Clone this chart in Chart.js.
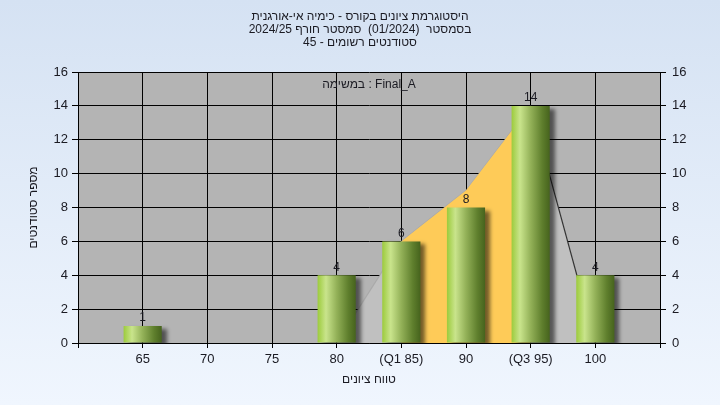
<!DOCTYPE html>
<html>
<head>
<meta charset="utf-8">
<script src="https://cdn.jsdelivr.net/npm/chart.js@4.4.1/dist/chart.umd.min.js"></script>
<style>
  html, body { margin: 0; padding: 0; background: #e4edf8; }
  canvas { display: block; }
</style>
</head>
<body>
<canvas id="grades-histogram" width="720" height="405"></canvas>
<script>
// chart data
const gradeLabels = ["", "65", "70", "75", "80", "(Q1 85)", "90", "(Q3 95)", "100", ""];
const studentCounts = [null, 1, 0, 0, 4, 6, 8, 14, 4, null];
const outerCurve = [null, null, null, null, 0, 6, 9, 14, 0, null];
const quartileCurve = [null, null, null, null, null, 6, 9, 14, null, null];
const titleLines = [
  "היסטוגרמת ציונים בקורס - כימיה אי-אורגנית",
  "בסמסטר  (01/2024)  סמסטר חורף 2024/25",
  "סטודנטים רשומים - 45",
];
const taskLabel = "במשימה : Final_A";
const yTitle = "מספר סטודנטים";
const xTitle = "טווח ציונים";
const yMax = 16;
const yStep = 2;

const baseFont = { family: "'Liberation Sans', Arial, sans-serif", size: 13 };
const textColor = "#1a1a22";

// background + plot area fill
const backgroundPlugin = {
  id: "background",
  beforeDraw(chart) {
    const { ctx, width, height, chartArea } = chart;
    ctx.save();
    const g = ctx.createLinearGradient(0, 0, 0, height);
    g.addColorStop(0, "#d5e2f3");
    g.addColorStop(1, "#f0f6fe");
    ctx.fillStyle = g;
    ctx.fillRect(0, 0, width, height);
    ctx.fillStyle = "#b4b4b4";
    ctx.fillRect(chartArea.left, chartArea.top, chartArea.right - chartArea.left, chartArea.bottom - chartArea.top);
    ctx.restore();
  },
};

// drop shadow for the bars
const barShadowPlugin = {
  id: "barShadow",
  beforeDatasetDraw(chart, args) {
    if (args.meta.type !== "bar") return;
    const ctx = chart.ctx;
    ctx.save();
    ctx.shadowColor = "rgba(0,0,0,0.55)";
    ctx.shadowBlur = 4;
    ctx.shadowOffsetX = 5;
    ctx.shadowOffsetY = 3;
  },
  afterDatasetDraw(chart, args) {
    if (args.meta.type !== "bar") return;
    chart.ctx.restore();
  },
};

// value labels above bars + task label
const labelsPlugin = {
  id: "valueLabels",
  afterDatasetsDraw(chart) {
    const { ctx, chartArea } = chart;
    ctx.save();
    ctx.font = "12px " + baseFont.family;
    ctx.fillStyle = textColor;
    ctx.textAlign = "center";
    ctx.textBaseline = "bottom";
    chart.getSortedVisibleDatasetMetas().forEach((meta) => {
      if (meta.type !== "bar") return;
      meta.data.forEach((el, i) => {
        const v = studentCounts[i];
        if (!v) return;
        ctx.fillText(String(v), el.x, el.y - 2);
      });
    });
    ctx.textBaseline = "middle";
    ctx.fillText(taskLabel, (chartArea.left + chartArea.right) / 2, chartArea.top + 13);
    ctx.restore();
  },
};

const barGradient = (context) => {
  const chart = context.chart;
  const xScale = chart.scales.x;
  if (!chart.chartArea || !xScale) return "#8fb548";
  const x = xScale.getPixelForValue(context.dataIndex);
  const half = ((xScale.right - xScale.left) / (gradeLabels.length - 1)) * 0.59 / 2;
  const g = chart.ctx.createLinearGradient(x - half, 0, x + half, 0);
  g.addColorStop(0, "#9ccb3c");
  g.addColorStop(0.22, "#c9e48c");
  g.addColorStop(0.5, "#93b158");
  g.addColorStop(0.8, "#5f7f2d");
  g.addColorStop(1, "#46631d");
  return g;
};

const setupHistogram = () => {
  try {
    const data = {
      labels: gradeLabels,
      datasets: [
        {
          type: "bar",
          label: "סטודנטים",
          data: studentCounts,
          backgroundColor: barGradient,
          borderWidth: 0,
          barPercentage: 0.59,
          categoryPercentage: 1,
          order: 1,
        },
        {
          type: "line",
          label: "IQR",
          data: quartileCurve,
          borderWidth: 0,
          borderColor: "rgba(0,0,0,0)",
          backgroundColor: "#fecb58",
          fill: "origin",
          pointRadius: 0,
          tension: 0,
          order: 2,
        },
        {
          type: "line",
          label: "curve",
          data: outerCurve,
          borderWidth: 1.2,
          borderColor: "rgba(0,0,0,0)",
          segment: {
            borderColor: (ctx) => (ctx.p0DataIndex === 7 ? "#333333" : "rgba(160,160,160,0.6)"),
          },
          backgroundColor: "#c0c0c0",
          fill: "origin",
          pointRadius: 0,
          tension: 0,
          order: 3,
        },
      ],
    };

    const config = {
      type: "bar",
      data,
      options: {
        responsive: false,
        animation: false,
        devicePixelRatio: 1,
        layout: { padding: 0 },
        plugins: {
          legend: { display: false },
          tooltip: { enabled: false },
          title: {
            display: true,
            text: titleLines,
            color: textColor,
            font: { family: baseFont.family, size: 12, weight: "normal", lineHeight: 13 / 12 },
            padding: { top: 10.5, bottom: 22.5 },
          },
        },
        scales: {
          x: {
            type: "category",
            offset: false,
            grid: { offset: false, color: "#000", lineWidth: 1, tickLength: 5, tickColor: "#000" },
            border: { color: "#000" },
            ticks: { color: textColor, font: baseFont, padding: 4, autoSkip: false, maxRotation: 0 },
            title: {
              display: true,
              text: xTitle,
              color: textColor,
              font: { family: baseFont.family, size: 12 },
              padding: { top: 0, bottom: 18 },
            },
            afterFit(scale) {
              scale.height = 62;
            },
          },
          y: {
            position: "left",
            min: 0,
            max: yMax,
            ticks: { stepSize: yStep, color: textColor, font: baseFont, padding: 4 },
            grid: { color: "#000", lineWidth: 1, tickLength: 6, tickColor: "#000" },
            border: { color: "#000" },
            title: {
              display: true,
              text: yTitle,
              color: textColor,
              font: { family: baseFont.family, size: 12 },
              padding: { top: 26, bottom: 0 },
            },
            afterFit(scale) {
              scale.width = 78;
            },
          },
          y2: {
            position: "right",
            min: 0,
            max: yMax,
            ticks: { stepSize: yStep, color: textColor, font: baseFont, padding: 6 },
            grid: { drawOnChartArea: false, color: "#000", tickLength: 6, tickColor: "#000" },
            border: { color: "#000" },
            afterFit(scale) {
              scale.width = 60;
            },
          },
        },
      },
      plugins: [backgroundPlugin, barShadowPlugin, labelsPlugin],
    };

    const histogram = new Chart(document.getElementById("grades-histogram"), config);
  } catch (e) {
    console.error(e);
  }
};

setupHistogram();
</script>
</body>
</html>
